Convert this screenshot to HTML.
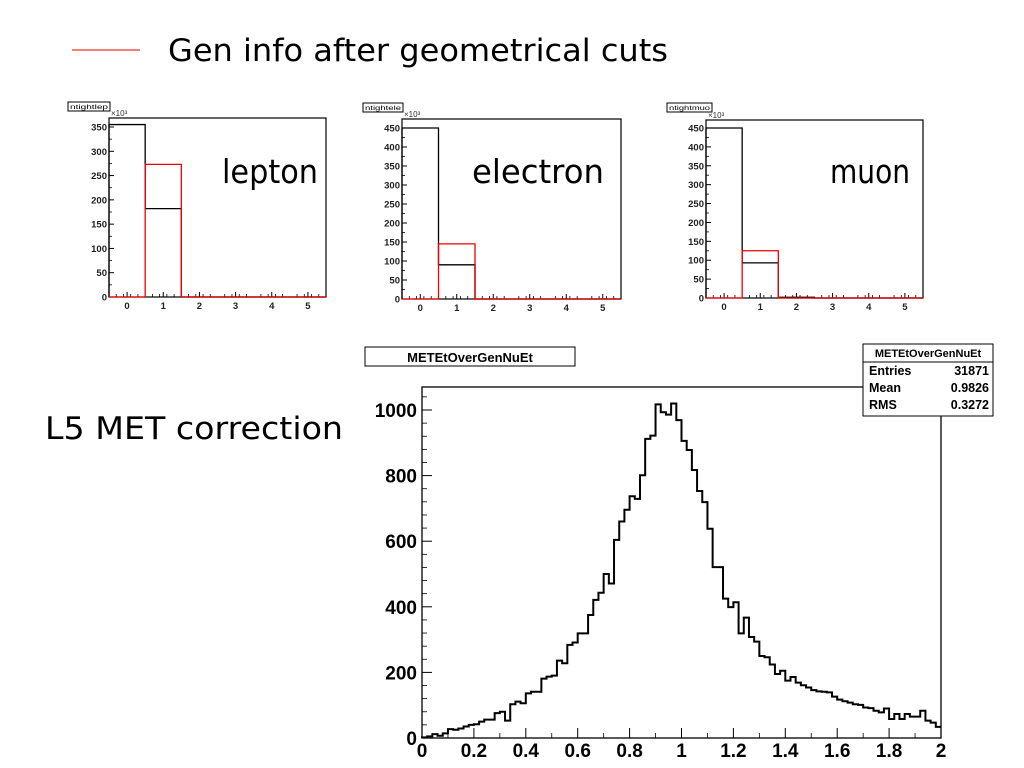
<!DOCTYPE html>
<html><head><meta charset="utf-8"><style>
html,body{margin:0;padding:0;background:#fff;}
svg{display:block;font-family:"Liberation Sans",sans-serif;}
.big{font-family:"DejaVu Sans","Liberation Sans",sans-serif;}
</style></head><body>
<svg id="s" width="1024" height="768" viewBox="0 0 1024 768">
<line x1="72" y1="50" x2="140" y2="50" stroke="#e33" stroke-width="1.2"/>
<text x="168" y="61" font-size="31" class="big" textLength="500" lengthAdjust="spacingAndGlyphs">Gen info after geometrical cuts</text>
<text x="45" y="439" font-size="31" class="big" textLength="298" lengthAdjust="spacingAndGlyphs">L5 MET correction</text>
<g id="small"></g>
<g id="main"></g>
</svg>
<script>
// small plots data (x10^3)
const smallCats = [0,1,2,3,4,5];
const lepBlack = [355,182,0,0,0,0];
const lepRed = [0,273,0,0,0,0];
const eleBlack = [450,90,0,0,0,0];
const eleRed = [0,145,0,0,0,0];
const muoBlack = [450,93,2,0,0,0];
const muoRed = [0,125,0,0,0,0];
const lepTicks = [0,50,100,150,200,250,300,350];
const eTicks = [0,50,100,150,200,250,300,350,400,450];

// main histogram
const mainBins = [2,5,12,7,14,27,25,29,35,40,42,50,56,56,76,80,53,103,111,106,136,141,141,181,187,190,236,228,284,291,319,319,375,421,443,500,471,604,660,696,737,729,801,912,922,1017,993,986,1020,969,906,878,817,753,719,638,521,521,425,399,414,319,367,308,294,250,246,224,195,205,175,186,169,161,154,146,142,141,139,126,117,112,108,103,101,93,91,83,78,90,58,73,58,73,65,65,83,53,47,34];
const mainXTicks = ["0","0.2","0.4","0.6","0.8","1","1.2","1.4","1.6","1.8","2"];
const mainYTicks = [0,200,400,600,800,1000];
const statsLabels = ["Entries","Mean","RMS"];
const statsValues = ["31871","0.9826","0.3272"];

const NS="http://www.w3.org/2000/svg";
function mk(tag,parent,attrs){const e=document.createElementNS(NS,tag);for(const k in attrs)e.setAttribute(k,attrs[k]);parent.appendChild(e);return e;}

function smallPlot(cfg){
  const g=mk('g',document.getElementById('small'),{});
  
  
  const L=cfg.x0,R=cfg.x1,T=cfg.top,B=cfg.bot;
  const xs=v=>L+(v+0.5)/6*(R-L);
  const ys=v=>B-v*cfg.k;
  const fr=mk('rect',g,{x:L,y:T,width:R-L,height:B-T,fill:'none',stroke:'#000','stroke-width':1.2});
  
  
  cfg.ticks.forEach(t=>{
    const y=ys(t);
    mk('line',g,{x1:L,y1:y,x2:L+5,y2:y,stroke:'#000','stroke-width':1});
    const tx=mk('text',g,{x:L-2,y:y+3.5,'font-size':9.5,'font-weight':'bold','text-anchor':'end',fill:'#222'});
    tx.textContent=t;
    
    
    if(t<cfg.ticks[cfg.ticks.length-1]){const ym=ys(t+25);mk('line',g,{x1:L,y1:ym,x2:L+3,y2:ym,stroke:'#000','stroke-width':0.8});}
  });
  smallCats.forEach(c=>{
    const x=xs(c);
    mk('line',g,{x1:x,y1:B,x2:x,y2:B-5,stroke:'#000','stroke-width':1});
    for(let j=1;j<5;j++){const xm=xs(c-0.5+j*0.2);mk('line',g,{x1:xm,y1:B,x2:xm,y2:B-3,stroke:'#000','stroke-width':0.8});}
    const tx=mk('text',g,{x:x,y:B+12,'font-size':9.5,'font-weight':'bold','text-anchor':'middle',fill:'#222'});
    tx.textContent=c;
    
    
  });
  function hist(vals,col,name){
    let d='M'+xs(-0.5)+','+B;
    vals.forEach((v,i)=>{d+=' L'+xs(i-0.5)+','+ys(v)+' L'+xs(i+0.5)+','+ys(v);});
    d+=' L'+R+','+B;
    const p=mk('path',g,{d:d,fill:'none',stroke:col,'stroke-width':1.3});
    
    
  }
  hist(cfg.black,'#000','histogram-all');
  hist(cfg.red,'#e00','histogram-geometric-cuts');
  const tb=mk('rect',g,{x:cfg.tx,y:cfg.ty,width:cfg.tw,height:9,fill:'#fff',stroke:'#000','stroke-width':1});
  
  
  const tt=mk('text',g,{x:cfg.tx+2,y:cfg.ty+7,'font-size':6.5,textLength:cfg.tw-4,lengthAdjust:'spacingAndGlyphs'});
  tt.textContent=cfg.title;
  const ex=mk('text',g,{x:L+2,y:T-2,'font-size':8,fill:'#333'});
  ex.textContent='\u00d710\u00b3';
  
  
  const lab=mk('text',g,{x:cfg.lx,y:183,'font-size':33,class:'big',textLength:cfg.lw,lengthAdjust:'spacingAndGlyphs'});
  lab.textContent=cfg.label;
  
  
}
smallPlot({name:'lepton-plot',x0:109,x1:326,top:118,bot:297,k:170/350,ticks:lepTicks,black:lepBlack,red:lepRed,tx:68,ty:102,tw:42,title:'ntightlep',label:'lepton',lx:222,lw:96});
smallPlot({name:'electron-plot',x0:402,x1:621,top:119,bot:299,k:171/450,ticks:eTicks,black:eleBlack,red:eleRed,tx:363,ty:103,tw:40,title:'ntightele',label:'electron',lx:472,lw:132});
smallPlot({name:'muon-plot',x0:706,x1:923,top:120,bot:298,k:170/450,ticks:eTicks,black:muoBlack,red:muoRed,tx:667,ty:103,tw:45,title:'ntightmuo',label:'muon',lx:830,lw:80});

(function(){
  const g=document.getElementById('main');
  
  
  const L=422,R=941,T=387,B=738;
  const xs=v=>L+v/2*(R-L);
  const ys=v=>B-v*(B-410)/1000;
  const fr=mk('rect',g,{x:L,y:T,width:R-L,height:B-T,fill:'none',stroke:'#000','stroke-width':1.3});
  
  
  mainYTicks.forEach(t=>{
    const y=ys(t);
    mk('line',g,{x1:L,y1:y,x2:L+10,y2:y,stroke:'#000','stroke-width':1});
    for(let j=1;j<5;j++){const ym=ys(t+j*40);if(ym>T)mk('line',g,{x1:L,y1:ym,x2:L+5,y2:ym,stroke:'#000','stroke-width':0.8});}
    const tx=mk('text',g,{x:L-5,y:y+7,'font-size':19,'font-weight':'bold','text-anchor':'end'});
    tx.textContent=t;
    
    
  });
  mainXTicks.forEach((t,i)=>{
    const x=xs(i*0.2);
    mk('line',g,{x1:x,y1:B,x2:x,y2:B-10,stroke:'#000','stroke-width':1});
    if(i<10)mk('line',g,{x1:xs(i*0.2+0.1),y1:B,x2:xs(i*0.2+0.1),y2:B-5,stroke:'#000','stroke-width':0.8});
    const tx=mk('text',g,{x:x,y:B+19,'font-size':19,'font-weight':'bold','text-anchor':'middle'});
    tx.textContent=t;
    
    
  });
  const w=2/mainBins.length;
  let d='M'+xs(0)+','+B;
  mainBins.forEach((v,i)=>{d+=' L'+xs(i*w)+','+ys(v)+' L'+xs((i+1)*w)+','+ys(v);});
  const p=mk('path',g,{d:d,fill:'none',stroke:'#000','stroke-width':2});
  
  
  const tb=mk('rect',g,{x:365,y:347,width:210,height:19,fill:'#fff',stroke:'#000','stroke-width':1});
  
  
  const tt=mk('text',g,{x:470,y:362,'font-size':13,'font-weight':'bold','text-anchor':'middle'});
  tt.textContent='METEtOverGenNuEt';
  const sb=mk('rect',g,{x:863,y:344,width:130,height:72,fill:'#fff',stroke:'#000','stroke-width':1});
  
  
  mk('line',g,{x1:863,y1:362,x2:993,y2:362,stroke:'#000','stroke-width':1});
  const st=mk('text',g,{x:928,y:357,'font-size':11,'font-weight':'bold','text-anchor':'middle'});
  st.textContent='METEtOverGenNuEt';
  statsLabels.forEach((l,i)=>{
    const y=375+i*17;
    const a=mk('text',g,{x:869,y:y,'font-size':12.5,'font-weight':'bold'});
    a.textContent=l;
    
    
    const b=mk('text',g,{x:989,y:y,'font-size':12.5,'font-weight':'bold','text-anchor':'end'});
    b.textContent=statsValues[i];
    
    
  });
})();
</script>
</body></html>
